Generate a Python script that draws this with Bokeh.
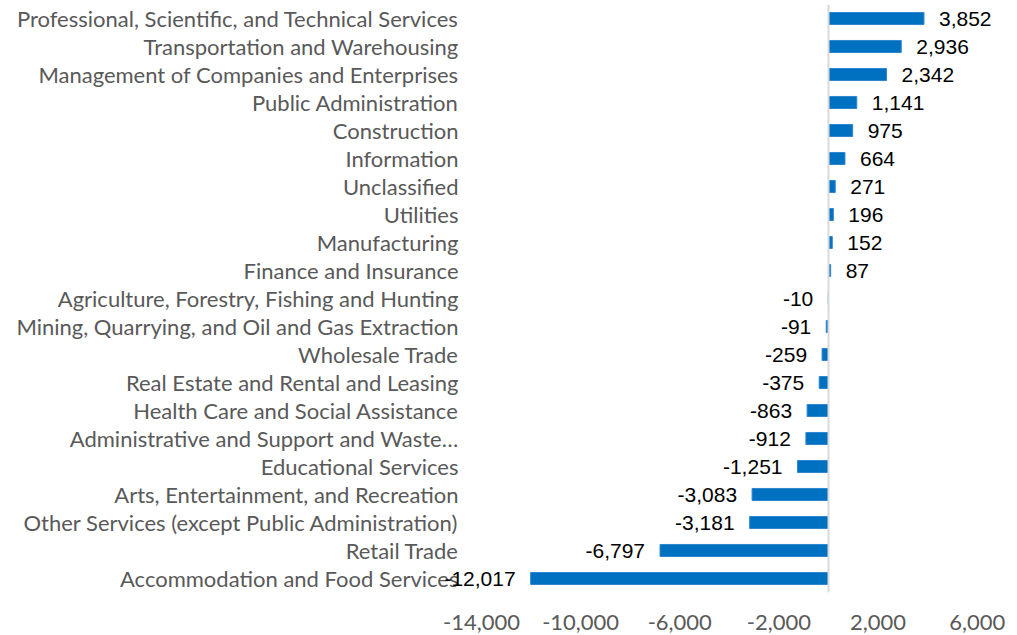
from bokeh.plotting import figure
from bokeh.models import FactorRange, Range1d, FixedTicker, NumeralTickFormatter, Span, ColumnDataSource
from bokeh.core.properties import value
from bokeh.embed import file_html
from bokeh.resources import INLINE

categories = [
    "Professional, Scientific, and Technical Services",
    "Transportation and Warehousing",
    "Management of Companies and Enterprises",
    "Public Administration",
    "Construction",
    "Information",
    "Unclassified",
    "Utilities",
    "Manufacturing",
    "Finance and Insurance",
    "Agriculture, Forestry, Fishing and Hunting",
    "Mining, Quarrying, and Oil and Gas Extraction",
    "Wholesale Trade",
    "Real Estate and Rental and Leasing",
    "Health Care and Social Assistance",
    "Administrative and Support and Waste\u2026",
    "Educational Services",
    "Arts, Entertainment, and Recreation",
    "Other Services (except Public Administration)",
    "Retail Trade",
    "Accommodation and Food Services",
]
values = [3852, 2936, 2342, 1141, 975, 664, 271, 196, 152, 87, -10, -91, -259, -375,
          -863, -912, -1251, -3083, -3181, -6797, -12017]
tick_values = [-14000, -10000, -6000, -2000, 2000, 6000]

# axis geometry (pixels): zero at 828, -14000 at 481, frame spans the full width
W = 1017
zero_px = 828.0
px_per_unit = (828.0 - 481.0) / 14000.0
x_start = -zero_px / px_per_unit
x_end = (W - zero_px) / px_per_unit
label_x = (458.0 - zero_px) / px_per_unit

labels = [f"{v:,}" for v in values]
pos = [v >= 0 for v in values]

src_pos = ColumnDataSource(dict(y=[c for c, p in zip(categories, pos) if p],
                                x=[v for v, p in zip(values, pos) if p],
                                t=[l for l, p in zip(labels, pos) if p]))
src_neg = ColumnDataSource(dict(y=[c for c, p in zip(categories, pos) if not p],
                                x=[v for v, p in zip(values, pos) if not p],
                                t=[l for l, p in zip(labels, pos) if not p]))
src_all = ColumnDataSource(dict(y=categories, x=values))
src_cat = ColumnDataSource(dict(y=categories, x=[label_x] * len(categories)))

p = figure(width=W, height=635, output_backend="svg", toolbar_location=None,
           y_range=FactorRange(factors=list(reversed(categories))),
           x_range=Range1d(x_start, x_end),
           min_border_left=0, min_border_right=0, min_border_top=4, min_border_bottom=43)
p.outline_line_color = None
p.grid.visible = False
p.background_fill_color = "white"
p.border_fill_color = "white"
p.yaxis.visible = False

p.add_layout(Span(location=0, dimension="height", line_color="#D9D9D9", line_width=2))

p.hbar(y="y", right="x", left=0, height=0.43, source=src_all,
       fill_color="#0070C0", line_color="#2E86CF", line_width=1)

p.text(x="x", y="y", text="y", source=src_cat, text_align="right",
       text_baseline="middle", text_font=value("Lato"), text_font_size="22px",
       text_color="#595959")

p.text(x="x", y="y", text="t", source=src_pos, x_offset=15, text_align="left",
       text_baseline="middle", text_font=value("Liberation Sans"), text_font_size="21px",
       text_color="black")
p.text(x="x", y="y", text="t", source=src_neg, x_offset=-15, text_align="right",
       text_baseline="middle", text_font=value("Liberation Sans"), text_font_size="21px",
       text_color="black")

xa = p.xaxis[0]
xa.ticker = FixedTicker(ticks=tick_values)
xa.formatter = NumeralTickFormatter(format="0,0")
xa.axis_line_color = None
xa.major_tick_line_color = None
xa.minor_tick_line_color = None
xa.major_label_text_font = "Lato"
xa.major_label_text_font_size = "22px"
xa.major_label_text_color = "#595959"
xa.major_label_standoff = 16

open("out.html", "w").write(file_html(p, INLINE))
